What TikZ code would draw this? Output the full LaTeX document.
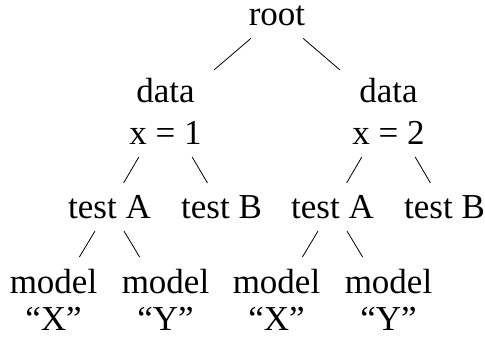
\documentclass[tikz,border=0pt]{standalone}
\usepackage{fontspec}
\setmainfont{Liberation Serif}
\usepackage{tikz}

\begin{document}
\begin{tikzpicture}[
    level distance=47.75pt,
    level 1/.style={sibling distance=111.5pt},
    level 2/.style={sibling distance=56pt},
    level 3/.style={sibling distance=56pt, level distance=46.5pt},
    every node/.style={align=center, inner sep=6pt, font=\fontsize{17.5}{17}\selectfont}
]
\useasboundingbox (0,0) rectangle (242.5pt,-168.5pt);
% Tree
\node (root) at (138.5pt,-8pt) {root}
    child {node (data1) {data\\[4pt]x = 1}
        child {node (testA1) {test A}
            child {node (modelX1) {model\\[1.5pt]“X”}}
            child {node (modelY1) {model\\[1.5pt]“Y”}}
        }
        child {node (testB1) {test B}}
    }
    child {node (data2) {data\\[4pt]x = 2}
        child {node (testA2) {test A}
            child {node (modelX2) {model\\[1.5pt]“X”}}
            child {node (modelY2) {model\\[1.5pt]“Y”}}
        }
        child {node (testB2) {test B}}
    };
\end{tikzpicture}
\end{document}
